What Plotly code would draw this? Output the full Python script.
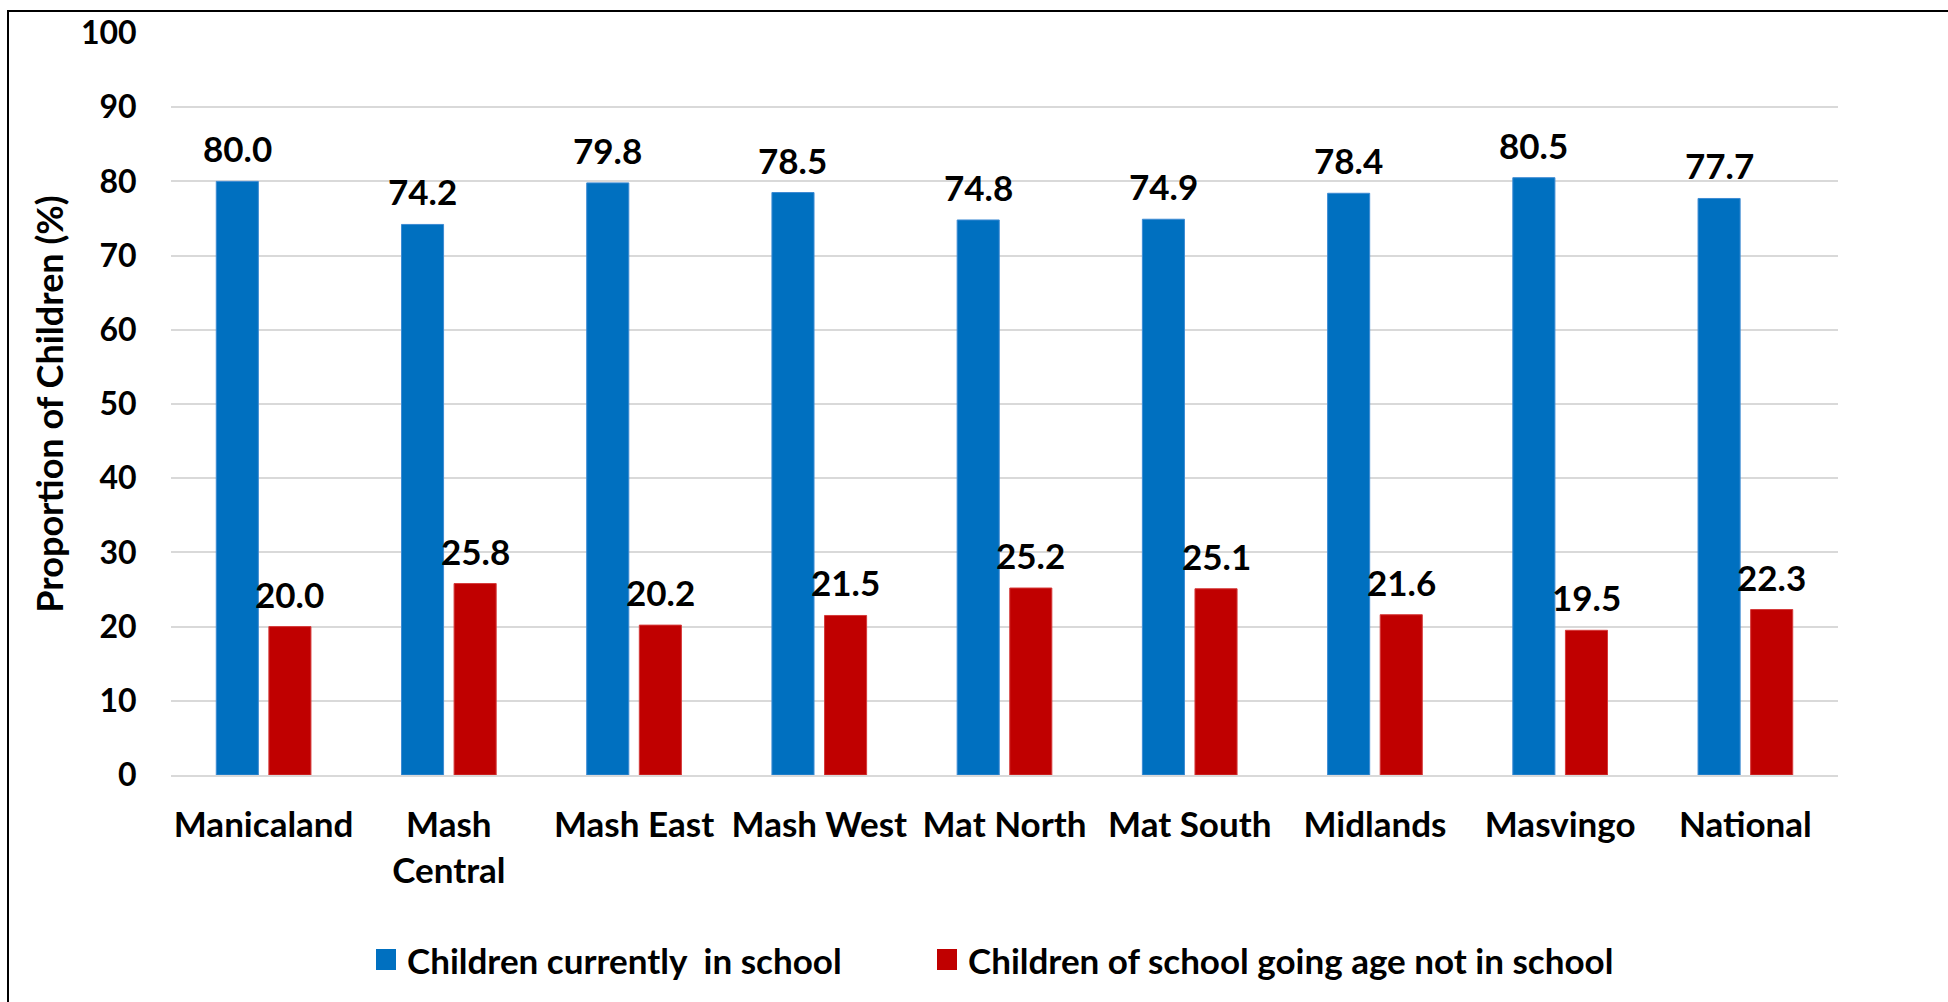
import plotly.graph_objects as go

# Provinces and national figures
regions = ["Manicaland", "Mash<br>Central", "Mash East", "Mash West", "Mat North",
           "Mat South", "Midlands", "Masvingo", "National"]
in_school = [80.0, 74.2, 79.8, 78.5, 74.8, 74.9, 78.4, 80.5, 77.7]
not_in_school = [20.0, 25.8, 20.2, 21.5, 25.2, 25.1, 21.6, 19.5, 22.3]

series_names = ["Children currently\u00a0 in school",
                "Children of school going age not in school"]
y_ticks = [0, 10, 20, 30, 40, 50, 60, 70, 80, 90, 100]

BLUE = "#0070C0"
RED = "#C00000"
FONT = "Lato"
TICK_FS = 32
TEXT_FS = 35
TITLE_FS = 36

W, H = 1948, 1002
ML, MR, MT, MB = 171, 110, 33, 227
BARGAP, GROUPGAP = 0.432, 0.2
plot_w = W - ML - MR
plot_h = H - MT - MB


def px_x(px):
    """page x pixel -> paper fraction"""
    return (px - ML) / plot_w


def px_y(py):
    """page y pixel -> paper fraction"""
    return (H - MB - py) / plot_h


def bold(size):
    return dict(family=FONT, size=size, color="black", weight="bold")


fig = go.Figure()
fig.add_trace(go.Bar(x=regions, y=in_school, name=series_names[0], showlegend=False,
                     marker=dict(color=BLUE, line=dict(color="#3d8bd3", width=1))))
fig.add_trace(go.Bar(x=regions, y=not_in_school, name=series_names[1], showlegend=False,
                     marker=dict(color=RED, line=dict(color="#d53a3a", width=1))))

# value labels above each bar, placed at the grouped-bar centres
half = (1 - BARGAP) / 4
annotations = []
for i in range(len(regions)):
    for val, dx in ((in_school[i], -half), (not_in_school[i], half)):
        annotations.append(dict(
            x=i + dx, y=val, xref="x", yref="y", text=f"{val:.1f}",
            showarrow=False, yanchor="middle", yshift=33, font=bold(TEXT_FS)))

# legend row: coloured swatch followed by the series name
shapes = []
legend_y = 960
for colour, name, sx in ((BLUE, series_names[0], 376), (RED, series_names[1], 937)):
    shapes.append(dict(type="rect", xref="paper", yref="paper",
                       x0=px_x(sx), x1=px_x(sx + 20),
                       y0=px_y(legend_y + 10), y1=px_y(legend_y - 11),
                       fillcolor=colour, line=dict(width=0)))
    annotations.append(dict(x=px_x(sx + 29), y=px_y(legend_y), xref="paper", yref="paper",
                            text=name, showarrow=False, xanchor="left", yanchor="middle",
                            font=bold(TEXT_FS)))

# outer frame around the chart (left and top edges fall inside the page)
shapes.append(dict(type="rect", xref="paper", yref="paper",
                   x0=px_x(8), x1=1.5, y0=-1.0, y1=px_y(11),
                   line=dict(color="black", width=2), fillcolor="rgba(0,0,0,0)",
                   layer="above"))

fig.update_layout(
    width=W, height=H,
    margin=dict(l=ML, r=MR, t=MT, b=MB, pad=0),
    paper_bgcolor="white", plot_bgcolor="white",
    barmode="group", bargap=BARGAP, bargroupgap=GROUPGAP,
    font=bold(TEXT_FS),
    showlegend=False,
    annotations=annotations,
    shapes=shapes,
)
fig.update_yaxes(range=[0, 100], tickvals=y_ticks, showgrid=True,
                 gridcolor="#d9d9d9", gridwidth=2, zeroline=False,
                 showline=False, ticks="outside", ticklen=27,
                 tickcolor="rgba(0,0,0,0)", tickfont=bold(TICK_FS),
                 title=dict(text="Proportion of Children (%)", standoff=6,
                            font=bold(TITLE_FS)))
fig.update_xaxes(showline=True, linecolor="#d9d9d9", linewidth=2,
                 ticks="outside", ticklen=18, tickcolor="rgba(0,0,0,0)",
                 tickfont=bold(TEXT_FS))

fig.write_html("out.html")
